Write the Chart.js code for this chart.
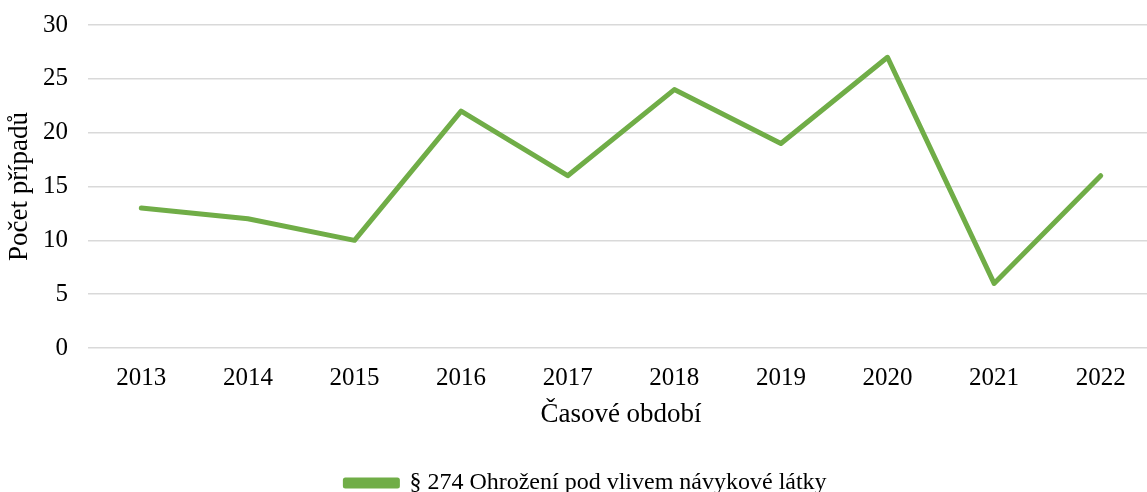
<!DOCTYPE html>
<html>
<head>
<meta charset="utf-8">
<script src="https://cdn.jsdelivr.net/npm/chart.js@4/dist/chart.umd.min.js"></script>
<style>
  html, body { margin: 0; padding: 0; background: #fff; overflow: hidden; }
  #wrap { width: 1147px; height: 492px; overflow: hidden; position: relative; }
  #box { width: 1160px; height: 505px; }
</style>
</head>
<body>
<div id="wrap"><div id="box"><canvas id="chart"></canvas></div></div>
<script>
// Data
const years = ['2013', '2014', '2015', '2016', '2017', '2018', '2019', '2020', '2021', '2022'];
const cases = [13, 12, 10, 22, 16, 24, 19, 27, 6, 16];
const seriesLabel = '§ 274 Ohrožení pod vlivem návykové látky';

const green = '#70ad47';
const serif = "'Liberation Serif', 'Times New Roman', serif";

Chart.defaults.font.family = serif;
Chart.defaults.font.size = 25;
Chart.defaults.color = '#000';

const ctx = document.getElementById('chart').getContext('2d');
new Chart(ctx, {
    type: 'line',
    data: {
        labels: years,
        datasets: [{
            label: seriesLabel,
            data: cases,
            borderColor: green,
            backgroundColor: green,
            borderWidth: 5,
            borderJoinStyle: 'round',
            borderCapStyle: 'round',
            tension: 0,
            pointRadius: 0,
            fill: false
        }]
    },
    options: {
        responsive: true,
        maintainAspectRatio: false,
        animation: false,
        layout: { padding: { left: 18, right: 6, top: 25, bottom: 0 } },
        scales: {
            x: {
                offset: true,
                grid: { display: false, drawTicks: false },
                border: { display: false },
                ticks: { padding: 15, maxRotation: 0 },
                title: { display: true, text: 'Časové období', font: { size: 27 }, padding: { top: 6, bottom: 30 } },
                afterFit: (scale) => {
                    // keep the plot bottom where the reference has it
                    const leg = scale.chart.legend ? scale.chart.legend.height : 46;
                    scale.height = scale.chart.height - leg - 348;
                }
            },
            y: {
                min: 0,
                max: 30,
                ticks: { stepSize: 5, padding: 20 },
                grid: { color: '#d9d9d9', lineWidth: 1.5, drawTicks: false },
                border: { display: false },
                title: { display: true, text: 'Počet případů', font: { size: 27 }, padding: { top: -14, bottom: 0 } },
                afterFit: (scale) => {
                    scale.width = 70;
                    scale.paddingTop = 0;
                }
            }
        },
        plugins: {
            legend: {
                position: 'bottom',
                labels: { boxWidth: 52, boxHeight: 6, padding: 10, font: { size: 24 } }
            },
            tooltip: { enabled: false }
        }
    }
});
</script>
</body>
</html>
